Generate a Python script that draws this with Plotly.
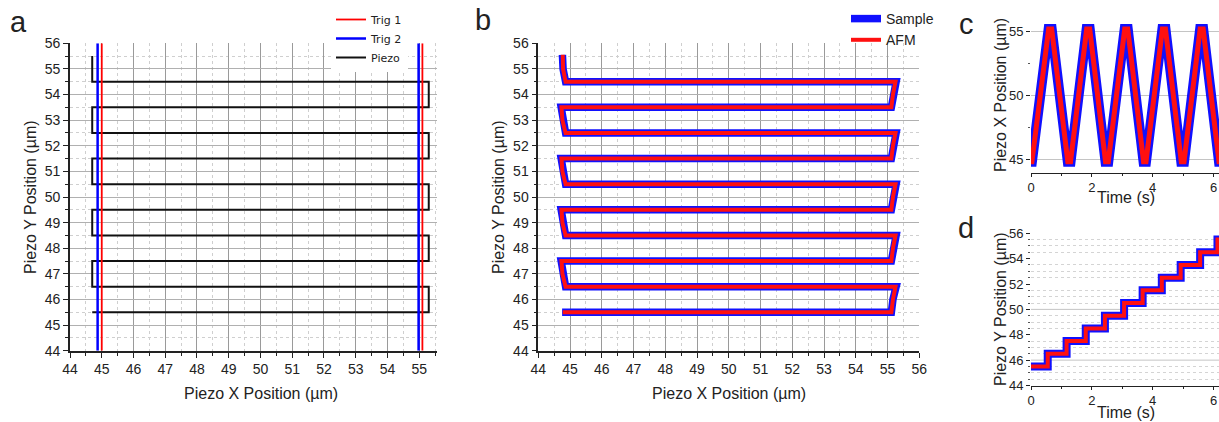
import plotly.graph_objects as go

W, H = 1219, 422

# ---------------- Panel a data ----------------
trig1_x = [45.0, 55.1]
trig2_x = [44.87, 54.98]
trig_y_span = [44, 56]
piezo_x = [44.7, 55.3, 55.3, 44.7, 44.7, 55.3, 55.3, 44.7, 44.7, 55.3, 55.3,
           44.7, 44.7, 55.3, 55.3, 44.7, 44.7, 55.3, 55.3, 44.7, 44.7]
piezo_y = [45.5, 45.5, 46.5, 46.5, 47.5, 47.5, 48.5, 48.5, 49.5, 49.5, 50.5,
           50.5, 51.5, 51.5, 52.5, 52.5, 53.5, 53.5, 54.5, 54.5, 55.5]

# ---------------- Panel b data ----------------
sample_x = [44.75, 55.12, 55.17, 55.27,
            44.86, 44.76, 44.72, 55.12, 55.17, 55.27,
            44.86, 44.76, 44.72, 55.12, 55.17, 55.27,
            44.86, 44.76, 44.72, 55.12, 55.17, 55.27,
            44.86, 44.76, 44.72, 55.12, 55.17, 55.27,
            44.86, 44.78, 44.76]
sample_y = [45.5, 45.5, 46.0, 46.5,
            46.5, 47.0, 47.5, 47.5, 48.0, 48.5,
            48.5, 49.0, 49.5, 49.5, 50.0, 50.5,
            50.5, 51.0, 51.5, 51.5, 52.0, 52.5,
            52.5, 53.0, 53.5, 53.5, 54.0, 54.5,
            54.5, 55.0, 55.55]
afm_x = [44.77, 55.12, 55.17, 55.25,
         44.86, 44.76, 44.73, 55.12, 55.17, 55.25,
         44.86, 44.76, 44.73, 55.12, 55.17, 55.25,
         44.86, 44.76, 44.73, 55.12, 55.17, 55.25,
         44.86, 44.76, 44.73, 55.12, 55.17, 55.25,
         44.86, 44.78, 44.77]
afm_y = sample_y[:]

# ---------------- Panel c data ----------------
time_c = [0.0, 0.03, 0.58, 0.68, 1.21, 1.30, 1.83, 1.93, 2.45, 2.54, 3.08, 3.18,
          3.70, 3.78, 4.32, 4.42, 4.94, 5.03, 5.56, 5.66, 6.18, 6.26]
xpos_c = [44.8, 44.8, 55.2, 55.2, 44.8, 44.8, 55.2, 55.2, 44.8, 44.8, 55.2, 55.2,
          44.8, 44.8, 55.2, 55.2, 44.8, 44.8, 55.2, 55.2, 44.8, 44.8]

# ---------------- Panel d data ----------------
time_d = [0.0, 0.55, 1.17, 1.80, 2.43, 3.06, 3.67, 4.30, 4.92, 5.56, 6.13, 6.30]
ypos_d = [45.5, 46.5, 47.5, 48.5, 49.5, 50.5, 51.5, 52.5, 53.5, 54.5, 55.5, 55.5]
d_major_grid = [46, 50]

FONT = "Liberation Sans, Arial, sans-serif"
BLUE = "#1010ff"
RED = "#ff1010"

fig = go.Figure()

# Panel a traces
fig.add_trace(go.Scatter(x=piezo_x, y=piezo_y, mode="lines", name="Piezo",
                         line=dict(color="#111", width=2), legendrank=3,
                         xaxis="x", yaxis="y", legend="legend"))
t2x, t2y = [], []
for v in trig2_x:
    t2x += [v, v, None]
    t2y += [trig_y_span[0], trig_y_span[1], None]
fig.add_trace(go.Scatter(x=t2x, y=t2y, mode="lines", name="Trig 2",
                         line=dict(color="#0000ff", width=2.5), legendrank=2,
                         xaxis="x", yaxis="y", legend="legend"))
t1x, t1y = [], []
for v in trig1_x:
    t1x += [v, v, None]
    t1y += [trig_y_span[0], trig_y_span[1], None]
fig.add_trace(go.Scatter(x=t1x, y=t1y, mode="lines", name="Trig 1",
                         line=dict(color="#ff0000", width=1.8), legendrank=1,
                         xaxis="x", yaxis="y", legend="legend"))

# Panel b traces
fig.add_trace(go.Scatter(x=sample_x, y=sample_y, mode="lines", name="Sample",
                         line=dict(color=BLUE, width=7.5), xaxis="x2", yaxis="y2",
                         legend="legend2"))
fig.add_trace(go.Scatter(x=afm_x, y=afm_y, mode="lines", name="AFM",
                         line=dict(color=RED, width=4), xaxis="x2", yaxis="y2",
                         legend="legend2"))

# Panel c traces
fig.add_trace(go.Scatter(x=time_c, y=xpos_c, mode="lines", showlegend=False,
                         line=dict(color=BLUE, width=10), xaxis="x3", yaxis="y3"))
fig.add_trace(go.Scatter(x=time_c, y=xpos_c, mode="lines", showlegend=False,
                         line=dict(color=RED, width=5), xaxis="x3", yaxis="y3"))

# Panel d traces
fig.add_trace(go.Scatter(x=time_d, y=ypos_d, mode="lines", showlegend=False,
                         line=dict(color=BLUE, width=8, shape="hv"), xaxis="x4", yaxis="y4"))
fig.add_trace(go.Scatter(x=time_d, y=ypos_d, mode="lines", showlegend=False,
                         line=dict(color=RED, width=4, shape="hv"), xaxis="x4", yaxis="y4"))


def px_x(p):
    return p / W


def px_y(p):
    return 1 - p / H


tickfont_big = dict(family=FONT, size=14, color="#222")
tickfont_small = dict(family=FONT, size=13, color="#222")

def big_axis(domain, rng, anchor, gridcolor):
    return dict(domain=domain, range=rng, anchor=anchor, dtick=1, tick0=44,
                automargin=False,
                showline=True, linecolor="#222", linewidth=1.6,
                ticks="outside", ticklen=5, tickwidth=1.4, tickcolor="#222",
                tickfont=tickfont_big, zeroline=False,
                showgrid=True, gridcolor=gridcolor, gridwidth=1,
                minor=dict(dtick=0.5, ticks="outside", ticklen=3, tickwidth=1.2,
                           tickcolor="#222", showgrid=True, gridcolor="#cfcfcf",
                           griddash="dot", gridwidth=1))

ydom_ab = [px_y(350.7), px_y(43.3)]
small_x = dict(domain=[px_x(1031), 1.0], range=[0, 6.18], dtick=2,
               automargin=False,
               showline=True, linecolor="#222", linewidth=1.4, ticks="outside",
               ticklen=3, tickcolor="#222", tickfont=tickfont_small, zeroline=False,
               showgrid=False, minor=dict(dtick=1, ticks="outside", ticklen=2, tickcolor="#222"))
layout = dict(
    width=W, height=H, margin=dict(l=0, r=0, t=0, b=0, autoexpand=False),
    paper_bgcolor="white", plot_bgcolor="white",
    xaxis=big_axis([px_x(70), px_x(437)], [44, 55.56], "y", "#9a9a9a"),
    yaxis=big_axis(ydom_ab, [44, 56], "x", "#b0b0b0"),
    xaxis2=big_axis([px_x(538.3), px_x(919.3)], [44, 56], "y2", "#9a9a9a"),
    yaxis2=big_axis(ydom_ab, [44, 56], "x2", "#b0b0b0"),
    xaxis3=dict(small_x, anchor="y3"),
    yaxis3=dict(domain=[px_y(172.5), px_y(15.1)], range=[43.95, 56.3], anchor="x3",
                automargin=False,
                tickvals=[45, 50, 55], showline=False, ticks="outside", ticklen=4,
                tickcolor="#222", tickfont=tickfont_small, zeroline=False,
                showgrid=True, gridcolor="#c4c4c4", gridwidth=1,
                minor=dict(tickvals=[47.5, 52.5], ticks="outside", ticklen=2, tickcolor="#555")),
    xaxis4=dict(small_x, anchor="y4"),
    yaxis4=dict(domain=[px_y(385.5), px_y(228.2)], range=[44, 56.4], anchor="x4",
                automargin=False,
                dtick=2, tick0=44, showline=False, ticks="outside", ticklen=4,
                tickcolor="#222", tickfont=tickfont_small, zeroline=False,
                showgrid=False,
                minor=dict(dtick=0.5, ticks="outside", ticklen=2, tickcolor="#555",
                           showgrid=True, gridcolor="#d4d4d4", griddash="dot")),
    legend=dict(x=px_x(331), y=px_y(5), xanchor="left", yanchor="top",
                bgcolor="white", borderwidth=0, itemwidth=30, tracegroupgap=0,
                font=dict(family="DejaVu Sans, Verdana, sans-serif", size=11, color="#222")),
    legend2=dict(x=px_x(846), y=px_y(3), xanchor="left", yanchor="top",
                 bgcolor="rgba(255,255,255,0)", borderwidth=0, itemwidth=30, tracegroupgap=0,
                 font=dict(family=FONT, size=14, color="#222")),
)
fig.update_layout(**layout)

# major gridlines of panel d drawn through its axis
for gv in d_major_grid:
    fig.add_shape(type="line", xref="x4 domain", yref="y4", x0=0, x1=1, y0=gv, y1=gv,
                  line=dict(color="#c4c4c4", width=1), layer="below")

def ann(text, x, y, size=16, angle=0, family=FONT):
    fig.add_annotation(text=text, x=px_x(x), y=px_y(y), xref="paper", yref="paper",
                       xanchor="center", yanchor="middle", showarrow=False,
                       textangle=angle, font=dict(family=family, size=size, color="#222"))

ann("Piezo X Position (µm)", 261, 393)
ann("Piezo Y Position (µm)", 30, 197, angle=-90)
ann("Piezo X Position (µm)", 729, 393)
ann("Piezo Y Position (µm)", 498, 197, angle=-90)
ann("Piezo X Position (µm)", 1000, 95, angle=-90)
ann("Time (s)", 1126, 197.5)
ann("Piezo Y Position (µm)", 1000, 309, angle=-90)
ann("Time (s)", 1126, 412)

for letter, x, y in [("a", 18, 22), ("b", 483, 20), ("c", 966, 24), ("d", 966, 228)]:
    ann(letter, x, y, size=29)

fig.write_html("out.html", config={"displayModeBar": False},
               post_script="document.body.style.margin='0';document.body.style.padding='0';")
